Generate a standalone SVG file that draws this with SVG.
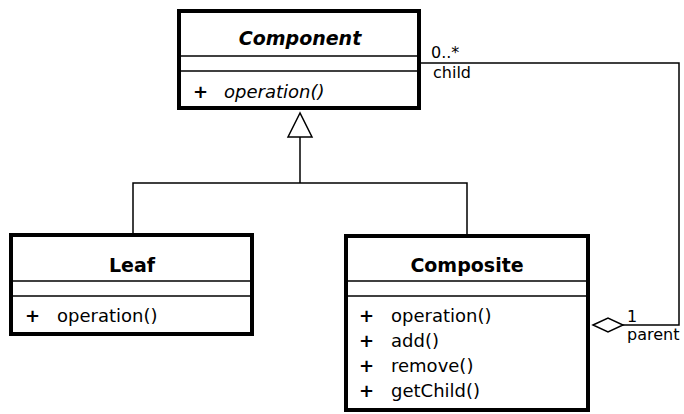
<svg xmlns="http://www.w3.org/2000/svg" width="684" height="414" viewBox="0 0 684 414">
<style>
.box{fill:#fff;stroke:#000;stroke-width:4}
.sep{stroke:#000;stroke-width:1.5}
.t{font-family:"DejaVu Sans",sans-serif;font-size:19px;font-weight:bold;text-anchor:middle}
.m{font-family:"DejaVu Sans",sans-serif;font-size:18px}
.p{font-family:"DejaVu Sans",sans-serif;font-size:18px;font-weight:bold}
.l{font-family:"DejaVu Sans",sans-serif;font-size:16px}
.c{fill:none;stroke:#000;stroke-width:1.5}
</style>
<g id="connectors">
<polyline class="c" points="133,233 133,183 467,183 467,234"/>
<line class="c" x1="300" y1="183" x2="300" y2="137"/>
<polygon points="300,113 288,137 312,137" fill="#fff" stroke="#000" stroke-width="1.5"/>
<polyline class="c" points="421,63 679,63 679,325 623,325"/>
<polygon points="593,325 608,318 623,325 608,332" fill="#fff" stroke="#000" stroke-width="1.5"/>
<text class="l" x="431" y="58">0..*</text>
<text class="l" x="433" y="78">child</text>
<text class="l" x="627" y="322">1</text>
<text class="l" x="627" y="340">parent</text>
</g>
<g id="component">
<rect class="box" x="179" y="11" width="240" height="97"/>
<line class="sep" x1="179" y1="56" x2="419" y2="56"/>
<line class="sep" x1="179" y1="71" x2="419" y2="71"/>
<text class="t" x="300" y="45" font-style="italic">Component</text>
<text class="p" x="193" y="98">+</text>
<text class="m" x="224" y="98" font-style="italic">operation()</text>
</g>
<g id="leaf">
<rect class="box" x="11" y="235" width="241" height="99"/>
<line class="sep" x1="11" y1="281" x2="252" y2="281"/>
<line class="sep" x1="11" y1="296" x2="252" y2="296"/>
<text class="t" x="132" y="272">Leaf</text>
<text class="p" x="25" y="322">+</text>
<text class="m" x="57" y="322">operation()</text>
</g>
<g id="composite">
<rect class="box" x="346" y="236" width="242" height="174"/>
<line class="sep" x1="346" y1="281" x2="588" y2="281"/>
<line class="sep" x1="346" y1="296" x2="588" y2="296"/>
<text class="t" x="467" y="272">Composite</text>
<text class="p" x="359" y="322">+</text>
<text class="m" x="391" y="322">operation()</text>
<text class="p" x="359" y="347">+</text>
<text class="m" x="391" y="347">add()</text>
<text class="p" x="359" y="372">+</text>
<text class="m" x="391" y="372">remove()</text>
<text class="p" x="359" y="397">+</text>
<text class="m" x="391" y="397">getChild()</text>
</g>
</svg>
